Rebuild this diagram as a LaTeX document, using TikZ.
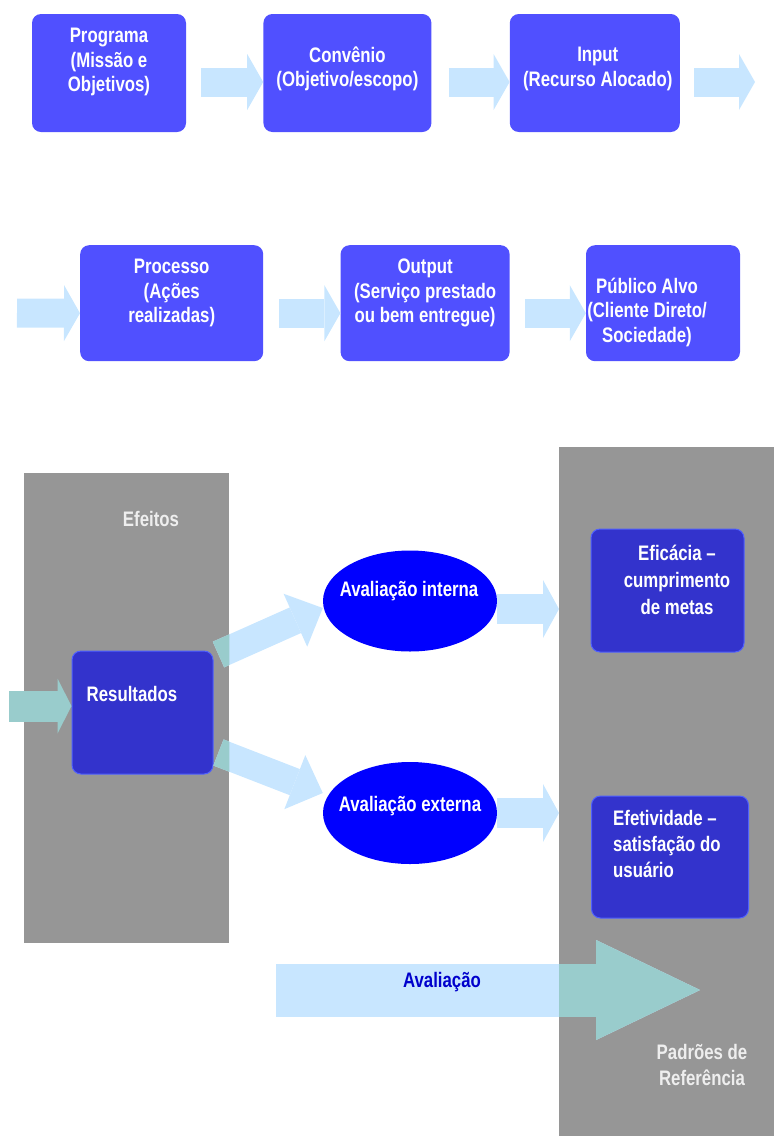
\documentclass[tikz,border=0pt]{standalone}
\usepackage{fontspec}
\setmainfont{Liberation Sans}[FakeStretch=0.8]
\usetikzlibrary{arrows.meta,positioning,shapes.geometric}
\definecolor{azulcaixa}{HTML}{5050FF}
\definecolor{azulescuro}{HTML}{3333CC}
\definecolor{azulborda}{HTML}{4F60FF}
\definecolor{azuloval}{HTML}{0000FF}
\definecolor{azulseta}{HTML}{C8E6FF}
\definecolor{verdeseta}{HTML}{99CCCC}
\definecolor{cinzapainel}{HTML}{969696}
\definecolor{textoclaro}{HTML}{EEEEEE}
\definecolor{azultexto}{HTML}{0000CC}
\begin{document}
\begin{tikzpicture}[x=1pt,y=-1pt,%
every node/.style={inner sep=0pt, align=center, font=\fontsize{21}{24.5}\selectfont\bfseries},
topbox/.style={rectangle, rounded corners=9pt, fill=azulcaixa, minimum height=118pt, minimum width=#1},
darkbox/.style={rectangle, rounded corners=9pt, fill=azulescuro, draw=azulborda, line width=1pt, minimum width=#1},
oval/.style={ellipse, fill=azuloval, minimum width=174pt, minimum height=101pt},
painel/.style={rectangle, fill=cinzapainel, anchor=north west},
branco/.style={text=white},
claro/.style={text=textoclaro, font=\fontsize{21}{26.5}\selectfont\bfseries},
seta/.style={draw=azulseta, line width=29pt, -{Triangle[length=16pt,width=56pt,line width=0pt]}},
diagonal/.style={seta, line width=28pt, -{Triangle[length=30pt,width=58pt,line width=0pt]}} ]
\useasboundingbox (0,0) rectangle (774,1136);
% cadeia de cima
\node[topbox=154pt] (programa) at (109,73) {};
\node[topbox=168pt, right=77pt of programa] (convenio) {};
\node[topbox=170pt, right=78pt of convenio] (input) {};
\node[topbox=183pt, minimum height=116pt, anchor=north west] (processo) at (80,245) {};
\node[topbox=169pt, minimum height=116pt, right=77pt of processo] (output) {};
\node[topbox=154pt, minimum height=116pt, right=76pt of output] (publico) {};
\node[branco] (programa-t) at ([yshift=11pt]programa.center) {Programa\\(Missão e\\Objetivos)};
\node[branco] (convenio-t) at ([yshift=4pt]convenio.center) {Convênio\\(Objetivo/escopo)};
\node[branco] (input-t) at ([xshift=3pt,yshift=4pt]input.center) {Input\\(Recurso Alocado)};
\node[branco] (processo-t) at ([yshift=10pt]processo.center) {Processo\\(Ações\\realizadas)};
\node[branco] (output-t) at ([yshift=10pt]output.center) {Output\\(Serviço prestado\\ou bem entregue)};
\node[branco] (publico-t) at ([xshift=-16pt,yshift=-9pt]publico.center) {Público Alvo\\(Cliente Direto/\\Sociedade)};
\coordinate (saida) at (755,82);
\coordinate (entrada2) at (17,313);
\draw[seta] ([xshift=15pt,yshift=-9pt]programa.east) -- ([yshift=-9pt]convenio.west);
\draw[seta] ([xshift=17pt,yshift=-9pt]convenio.east) -- ([yshift=-9pt]input.west);
\draw[seta] ([xshift=14pt,yshift=-9pt]input.east) -- (saida);
\draw[seta] (entrada2) -- ([yshift=-10pt]processo.west);
\draw[seta] ([xshift=16pt,yshift=-10pt]processo.east) -- ([yshift=-10pt]output.west);
\draw[seta] ([xshift=15pt,yshift=-10pt]output.east) -- ([yshift=-10pt]publico.west);
% avaliacao
\node[painel, minimum width=205pt, minimum height=470pt] (efeitos) at (24,473) {};
\node[painel, minimum width=216pt, minimum height=690pt] (padroes) at (559,447) {};
\node[claro] (efeitos-t) at (151,519) {Efeitos};
\node[claro] (padroes-t) at (702,1065) {Padrões de\\Referência};
\node[darkbox=141pt, minimum height=123pt] (resultados) at (142.5,712.5) {};
\node[darkbox=153pt, minimum height=123pt] (eficacia) at (667.5,590.5) {};
\node[darkbox=157pt, minimum height=122pt] (efetividade) at (670,857) {};
\node[oval] (interna) at (410,601) {};
\node[oval, minimum height=102pt] (externa) at (410,813) {};
\node[branco] (resultados-t) at (132,694) {Resultados};
\node[branco, font=\fontsize{21}{27}\selectfont\bfseries] (eficacia-t) at (677,580) {Eficácia --\\cumprimento\\de metas};
\node[branco, font=\fontsize{21}{26}\selectfont\bfseries, align=left, anchor=west] (efetividade-t) at (613,844) {Efetividade --\\satisfação do\\usuário};
\node[branco] (interna-t) at (409,591) {Avaliação interna};
\node[branco] (externa-t) at (410,806) {Avaliação externa};
\coordinate (entrada) at (9,706);
\coordinate (int-saida) at ([yshift=-8pt]interna.east);
\coordinate (inicio) at (276,990);
\coordinate (alvo) at (700,990);
\draw[seta, draw=verdeseta, line width=31pt, -{Triangle[length=14pt,width=55pt,line width=0pt]}] (entrada) -- (entrada -| resultados.west);
\draw[diagonal] ([xshift=5pt,yshift=58pt]resultados.east) -- ([yshift=-7pt]interna.west);
\draw[diagonal] ([xshift=5pt,yshift=-40pt]resultados.east) -- ([yshift=20pt]externa.west);
\draw[seta, line width=30pt, -{Triangle[length=16pt,width=58pt,line width=0pt]}] (int-saida) -- (int-saida -| padroes.west);
\draw[seta, line width=30pt, -{Triangle[length=16pt,width=58pt,line width=0pt]}] (externa.east) -- (externa.east -| padroes.west);
\draw[seta, line width=53pt, -{Triangle[length=104pt,width=100pt,line width=0pt]}] (inicio) -- (alvo);
\begin{scope}
\clip (efeitos.north west) rectangle (efeitos.south east);
\draw[diagonal, draw=verdeseta] ([xshift=5pt,yshift=58pt]resultados.east) -- ([yshift=-7pt]interna.west);
\draw[diagonal, draw=verdeseta] ([xshift=5pt,yshift=-40pt]resultados.east) -- ([yshift=20pt]externa.west);
\end{scope}
\begin{scope}
\clip (padroes.north west) rectangle (padroes.south east);
\draw[seta, draw=verdeseta, line width=53pt, -{Triangle[length=104pt,width=100pt,line width=0pt]}] (inicio) -- (alvo);
\end{scope}
\node[text=azultexto] (avaliacao-t) at (442,982) {Avaliação};
\end{tikzpicture}
\end{document}
